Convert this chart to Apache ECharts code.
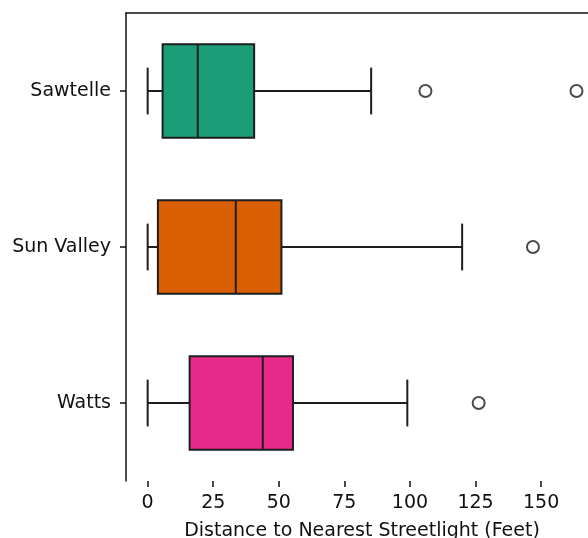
<!DOCTYPE html>
<html>
<head>
<meta charset="utf-8">
<script src="https://cdn.jsdelivr.net/npm/echarts@6/dist/echarts.min.js"></script>
<style>
  html, body { margin: 0; padding: 0; background: #fff; }
  #chart { width: 588px; height: 538px; }
</style>
</head>
<body>
<div id="chart"></div>
<script>
// Neighbourhoods, top to bottom
const categories = ['Sawtelle', 'Sun Valley', 'Watts'];
// Box-plot summary per neighbourhood (feet)
const whiskerLow  = [0, 0, 0];
const quartile1   = [5.7, 3.9, 16.0];
const medians     = [19.1, 33.6, 43.9];
const quartile3   = [40.6, 51.0, 55.4];
const whiskerHigh = [85.2, 119.9, 99.0];
// Points beyond the whiskers
const outliers = [
  [105.9, 163.5],
  [146.9],
  [126.2]
];
const boxColors = ['#1b9e77', '#d95f02', '#e7298a'];
const xTicks = [0, 25, 50, 75, 100, 125, 150];
const xMin = -8.26, xMax = 171.7;

const boxData = categories.map((c, i) => [i, whiskerLow[i], quartile1[i], medians[i], quartile3[i], whiskerHigh[i]]);
const outlierData = [];
outliers.forEach((vals, i) => vals.forEach(v => outlierData.push([v, i])));

const edge = '#1e1e1e';
const lw = 2;

function renderBox(params, api) {
  const cat = api.value(0);
  const lo = api.value(1), q1 = api.value(2), med = api.value(3), q3 = api.value(4), hi = api.value(5);
  const band = api.size([0, 1])[1];
  const half = band * 0.3;
  const cap = band * 0.15;
  const pLo = api.coord([lo, cat]);
  const pQ1 = api.coord([q1, cat]);
  const pMed = api.coord([med, cat]);
  const pQ3 = api.coord([q3, cat]);
  const pHi = api.coord([hi, cat]);
  const y = pQ1[1];
  const line = (x1, y1, x2, y2) => ({
    type: 'line',
    shape: { x1, y1, x2, y2 },
    style: { stroke: edge, lineWidth: lw }
  });
  return {
    type: 'group',
    children: [
      line(pLo[0], y, pQ1[0], y),
      line(pQ3[0], y, pHi[0], y),
      line(pLo[0], y - cap, pLo[0], y + cap),
      line(pHi[0], y - cap, pHi[0], y + cap),
      {
        type: 'rect',
        shape: { x: pQ1[0], y: y - half, width: pQ3[0] - pQ1[0], height: half * 2 },
        style: { fill: boxColors[params.dataIndex], stroke: edge, lineWidth: lw }
      },
      line(pMed[0], y - half, pMed[0], y + half)
    ]
  };
}

const chart = echarts.init(document.getElementById('chart'), null, { renderer: 'canvas' });
const font = 'DejaVu Sans';
const ink = '#111';
chart.setOption({
  animation: false,
  backgroundColor: '#fff',
  grid: { left: 126, top: 13, width: 472, height: 468, containLabel: false, outerBoundsMode: 'none' },
  xAxis: [{
    type: 'value',
    min: xMin,
    max: xMax,
    position: 'bottom',
    name: 'Distance to Nearest Streetlight (Feet)',
    nameLocation: 'middle',
    nameGap: 41,
    nameTextStyle: { fontFamily: font, fontSize: 19, color: ink },
    axisLine: { onZero: false, lineStyle: { color: ink, width: 1.5 } },
    axisTick: { show: true, length: 6, lineStyle: { color: ink, width: 1.5 }, customValues: xTicks },
    axisLabel: { fontFamily: font, fontSize: 19, color: ink, margin: 13, customValues: xTicks },
    splitLine: { show: false }
  }, {
    type: 'value',
    min: xMin,
    max: xMax,
    position: 'top',
    axisLine: { show: true, onZero: false, lineStyle: { color: ink, width: 1.5 } },
    axisTick: { show: false },
    axisLabel: { show: false },
    splitLine: { show: false }
  }],
  yAxis: {
    type: 'category',
    data: categories,
    inverse: true,
    axisLine: { show: true, onZero: false, lineStyle: { color: ink, width: 1.5 } },
    axisTick: { show: true, alignWithLabel: true, length: 6, lineStyle: { color: ink, width: 1.5 } },
    axisLabel: { fontFamily: font, fontSize: 19, color: ink, margin: 15 },
    splitLine: { show: false }
  },
  series: [{
    type: 'custom',
    renderItem: renderBox,
    encode: { x: [1, 2, 3, 4, 5], y: 0 },
    data: boxData
  }, {
    type: 'scatter',
    symbol: 'circle',
    symbolSize: 12,
    itemStyle: { color: 'rgba(255,255,255,0)', borderColor: edge, borderWidth: 2 },
    data: outlierData
  }]
});
</script>
</body>
</html>
